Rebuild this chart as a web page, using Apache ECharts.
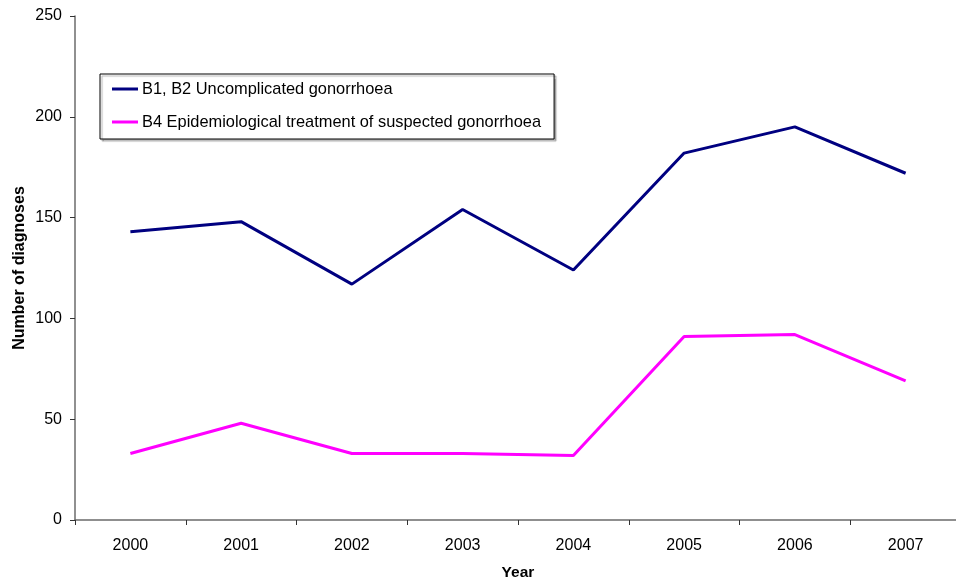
<!DOCTYPE html>
<html><head><meta charset="utf-8">
<script src="https://cdn.jsdelivr.net/npm/echarts@6/dist/echarts.min.js"></script>
<style>html,body{margin:0;padding:0;background:#fff}#c{width:956px;height:583px}</style>
</head><body><div id="c"></div>
<script>
var years = ['2000','2001','2002','2003','2004','2005','2006','2007'];
var uncomplicated = [143, 148, 117, 154, 124, 182, 195, 172];
var epidemiological = [33, 48, 33, 33, 32, 91, 92, 69];
var seriesNames = ['B1, B2 Uncomplicated gonorrhoea', 'B4 Epidemiological treatment of suspected gonorrhoea'];

var chart = echarts.init(document.getElementById('c'));
var font = 'Arial, "Liberation Sans", sans-serif';
chart.setOption({
  animation: false,
  textStyle: {fontFamily: font},
  grid: {left: 75, right: -5, top: 16, bottom: 63, containLabel: false, outerBoundsMode: 'none'},
  legend: {
    orient: 'vertical', left: 100, top: 74,
    padding: [7, 13, 9, 12],
    itemGap: 17, itemWidth: 26, itemHeight: 14,
    borderColor: '#000', borderWidth: 1,
    backgroundColor: '#fff',
    shadowColor: 'rgba(0,0,0,0.3)', shadowOffsetX: 2, shadowOffsetY: 2, shadowBlur: 1,
    textStyle: {fontSize: 16.4, color: '#000', fontFamily: font, padding: [0,0,0,-1]},
    data: [{name: seriesNames[0], icon: 'path://M0,0 L26,0 L26,3 L0,3 Z'}, {name: seriesNames[1], icon: 'path://M0,0 L26,0 L26,3 L0,3 Z'}]
  },
  xAxis: {
    type: 'category', data: years, boundaryGap: true,
    name: 'Year', nameLocation: 'middle', nameGap: 45, nameMoveOverlap: false,
    nameTextStyle: {fontSize: 15.5, fontWeight: 'bold', color: '#000', fontFamily: font},
    axisLine: {lineStyle: {color: '#6b6b6b', width: 1.5}},
    axisTick: {show: true, inside: false, length: 5, lineStyle: {color: '#333'}},
    axisLabel: {fontSize: 16, color: '#000', margin: 18, fontFamily: font}
  },
  yAxis: {
    type: 'value', min: 0, max: 250, interval: 50,
    name: 'Number of diagnoses', nameLocation: 'middle', nameGap: 47, nameRotate: 90, nameMoveOverlap: false,
    nameTextStyle: {fontSize: 16, fontWeight: 'bold', color: '#000', fontFamily: font},
    axisLine: {show: true, lineStyle: {color: '#6b6b6b', width: 1.5}},
    axisTick: {show: true, inside: false, length: 5, lineStyle: {color: '#333'}},
    axisLabel: {fontSize: 16, color: '#000', margin: 13, fontFamily: font},
    splitLine: {show: false}
  },
  series: [
    {name: seriesNames[0], type: 'line', data: uncomplicated, showSymbol: false, symbol: 'none',
     lineStyle: {color: '#000080', width: 3}, itemStyle: {color: '#000080'}},
    {name: seriesNames[1], type: 'line', data: epidemiological, showSymbol: false, symbol: 'none',
     lineStyle: {color: '#ff00ff', width: 3}, itemStyle: {color: '#ff00ff'}}
  ]
});
</script></body></html>
